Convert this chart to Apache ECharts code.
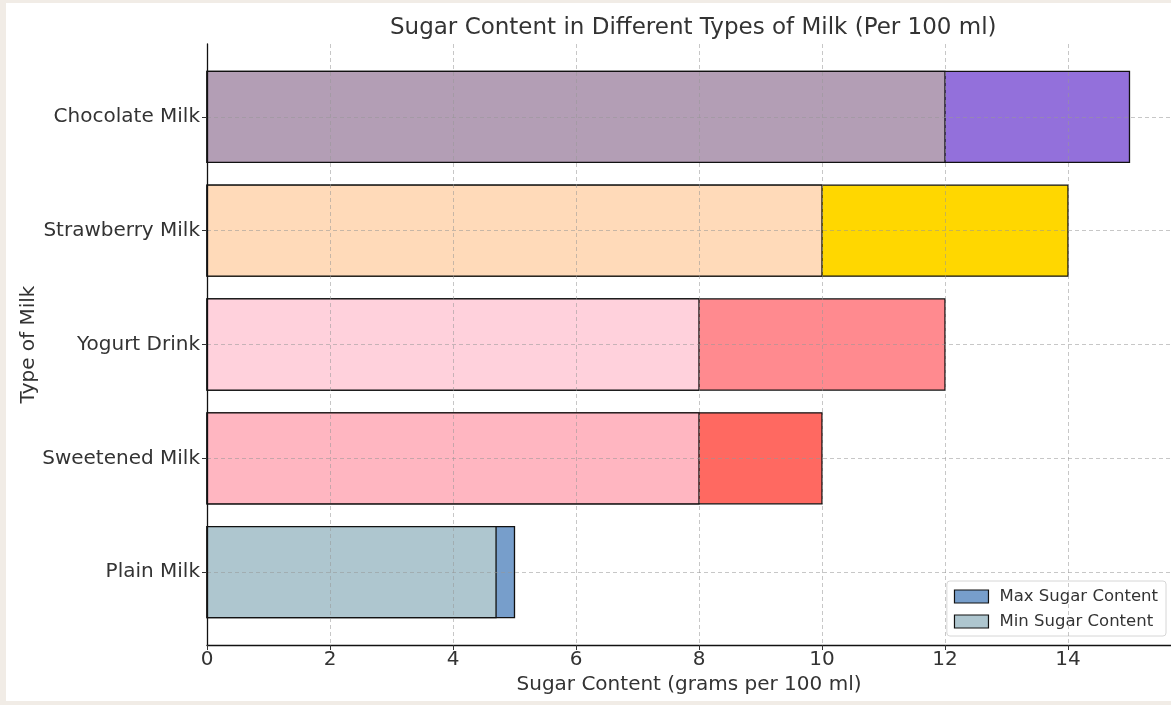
<!DOCTYPE html>
<html>
<head>
<meta charset="utf-8">
<script src="https://cdn.jsdelivr.net/npm/echarts@6/dist/echarts.min.js"></script>
<style>
  html, body { margin: 0; padding: 0; background: #f1ece6; }
  #panel { position: absolute; left: 6px; top: 3px; width: 1165px; height: 698px; background: #ffffff; }
  #chart { position: absolute; left: 0; top: 0; width: 1171px; height: 705px; }
</style>
</head>
<body>
<div id="panel"></div>
<div id="chart"></div>
<script>
// ---- data ----
const categories = ['Plain Milk', 'Sweetened Milk', 'Yogurt Drink', 'Strawberry Milk', 'Chocolate Milk'];
const minSugar = [4.7, 8, 8, 10, 12];
const maxSugar = [5, 10, 12, 14, 15];
const minColors = ['#aec6cf', '#ffb6c1', '#ffd1dc', '#ffdab9', '#b39eb5'];
const maxColors = ['#779ecb', '#ff6961', '#ff8a8f', '#ffd700', '#9370db'];
const xTicks = [0, 2, 4, 6, 8, 10, 12, 14];
const yTicks = [0, 1, 2, 3, 4];

const FONT = 'DejaVu Sans';

function makeRender(colors) {
  return function (params, api) {
    const i = params.dataIndex;
    const y = api.value(1);
    const start = api.coord([0, y]);
    const end = api.coord([api.value(0), y]);
    const h = api.size([0, 0.8])[1];
    return {
      type: 'rect',
      shape: { x: start[0], y: start[1] - h / 2, width: end[0] - start[0], height: h },
      style: { fill: colors[i], stroke: '#111', lineWidth: 1.3 }
    };
  };
}

const chart = echarts.init(document.getElementById('chart'), null, { renderer: 'canvas' });
const gridLine = { show: true,
  lineStyle: { color: 'rgba(150,150,150,0.6)', type: [4, 3], width: 0.9 } };

chart.setOption({
  backgroundColor: 'transparent',
  animation: false,
  title: {
    text: 'Sugar Content in Different Types of Milk (Per 100 ml)',
    left: 385, top: 12,
    textStyle: { fontFamily: FONT, fontSize: 23, fontWeight: 'normal', color: '#333' }
  },
  legend: {
    orient: 'vertical',
    right: 5, top: 581,
    padding: [7, 8, 6, 7],
    itemGap: 8,
    itemWidth: 34, itemHeight: 13,
    icon: 'rect',
    backgroundColor: '#ffffff',
    borderColor: '#d6d6d6', borderWidth: 1, borderRadius: 3,
    textStyle: { fontFamily: FONT, fontSize: 16.5, color: '#333', padding: [0, 0, 0, 6] },
    itemStyle: { borderColor: '#111', borderWidth: 1.2 },
    data: ['Max Sugar Content', 'Min Sugar Content']
  },
  grid: { left: 207, top: 44, width: 964, height: 601, containLabel: false },
  xAxis: {
    type: 'value', min: 0, max: 15.675, interval: 2, z: 5,
    name: 'Sugar Content (grams per 100 ml)',
    nameLocation: 'middle', nameGap: 30, nameMoveOverlap: false,
    nameTextStyle: { fontFamily: FONT, fontSize: 20, color: '#333' },
    axisLine: { show: true, onZero: false, lineStyle: { color: '#111', width: 1.3 } },
    axisTick: { show: true, length: 5, customValues: xTicks, lineStyle: { color: '#333' } },
    axisLabel: { customValues: xTicks, margin: 5, fontFamily: FONT, fontSize: 20, color: '#333' },
    splitLine: gridLine
  },
  yAxis: {
    type: 'value', min: -0.64, max: 4.64, interval: 1, z: 5,
    name: 'Type of Milk',
    nameLocation: 'middle', nameGap: 168, nameRotate: 90, nameMoveOverlap: false,
    nameTextStyle: { fontFamily: FONT, fontSize: 20, color: '#333' },
    axisLine: { show: true, onZero: false, lineStyle: { color: '#111', width: 1.3 } },
    axisTick: { show: true, length: 5, customValues: yTicks, lineStyle: { color: '#333' } },
    axisLabel: {
      customValues: yTicks, margin: 7, fontFamily: FONT, fontSize: 20, color: '#333',
      formatter: function (v) { return Number.isInteger(v) ? categories[v] : ''; }
    },
    splitLine: gridLine
  },
  series: [
    {
      name: 'Max Sugar Content', type: 'custom', z: 1,
      renderItem: makeRender(maxColors),
      encode: { x: 0, y: 1 },
      itemStyle: { color: maxColors[0], borderColor: '#111', borderWidth: 1.2 },
      data: categories.map((c, i) => [maxSugar[i], i])
    },
    {
      name: 'Min Sugar Content', type: 'custom', z: 2,
      renderItem: makeRender(minColors),
      encode: { x: 0, y: 1 },
      itemStyle: { color: minColors[0], borderColor: '#111', borderWidth: 1.2 },
      data: categories.map((c, i) => [minSugar[i], i])
    }
  ]
});
</script>
</body>
</html>
